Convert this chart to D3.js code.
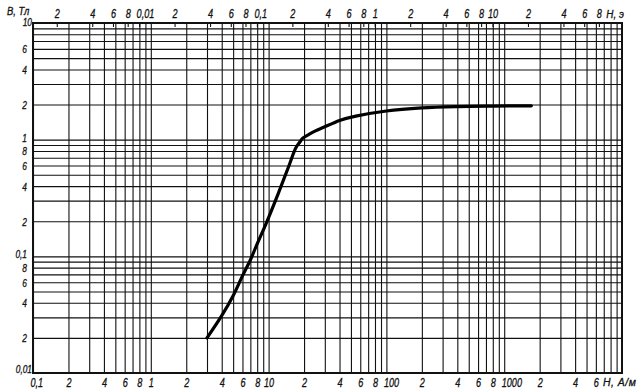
<!DOCTYPE html>
<html>
<head>
<meta charset="utf-8">
<script src="https://cdn.jsdelivr.net/npm/d3@7"></script>
<style>
  body { margin: 0; background: #fff; }
  text { font-family: "Liberation Sans", Arimo, sans-serif; font-style: italic; fill: #111; stroke: #111; stroke-width: 0.3; }
</style>
</head>
<body>
<div class="chart"></div>
<script>
// magnetization curve, H in A/m, B in T
var fieldH = [3, 4, 5, 6, 7, 8, 9.5, 12, 15, 17, 18.5, 19.5, 22, 25, 29, 35, 40, 55, 100, 200, 400, 800, 1700];
var inductionB = [0.02, 0.031, 0.046, 0.068, 0.093, 0.128, 0.19, 0.34, 0.61, 0.85, 0.96, 1.03, 1.11, 1.19, 1.27, 1.38, 1.46, 1.59, 1.76, 1.87, 1.92, 1.94, 1.95];

// bottom axis (A/m)
var hTicks = [0.1, 0.2, 0.4, 0.6, 0.8, 1, 2, 4, 6, 8, 10, 20, 40, 60, 80, 100, 200, 400, 600, 800, 1000, 2000, 4000, 6000];
var hLabels = ['0,1', '2', '4', '6', '8', '1', '2', '4', '6', '8', '10', '2', '4', '6', '8', '100', '2', '4', '6', '8', '1000', '2', '4', '6'];

// top axis (oersted)
var oeTicks = [0.002, 0.004, 0.006, 0.008, 0.01, 0.02, 0.04, 0.06, 0.08, 0.1, 0.2, 0.4, 0.6, 0.8, 1, 2, 4, 6, 8, 10, 20, 40, 60, 80];
var oeLabels = ['2', '4', '6', '8', '0,01', '2', '4', '6', '8', '0,1', '2', '4', '6', '8', '1', '2', '4', '6', '8', '10', '2', '4', '6', '8'];

// left axis (T)
var bTicks = [6, 4, 2, 1, 0.8, 0.6, 0.4, 0.2, 0.1, 0.08, 0.06, 0.04, 0.02];
var bLabels = ['6', '4', '2', '1', '8', '6', '4', '2', '0,1', '8', '6', '4', '2'];

var opts = { width: 640, height: 392, left: 33, right: 622, top: 23, bottom: 373 };
var oePerAm = 1 / 79.577;
var squeeze = 0.76; // narrow drafting-style lettering

var svg = d3.select('.chart').append('svg')
  .attr('width', opts.width)
  .attr('height', opts.height);

var x = d3.scaleLog().domain([0.1, 10000]).range([opts.left, opts.right]);
var xOe = d3.scaleLog().domain([0.1 * oePerAm, 10000 * oePerAm]).range([opts.left, opts.right]);
var y = d3.scaleLog().domain([0.01, 10]).range([opts.bottom, opts.top]);

// 1..9 in every decade
var gridX = [], gridY = [];
for (var e = -1; e < 4; e++) {
  for (var k = 1; k < 10; k++) gridX.push(k * Math.pow(10, e));
}
for (var e2 = -2; e2 < 1; e2++) {
  for (var k2 = 1; k2 < 10; k2++) gridY.push(k2 * Math.pow(10, e2));
}

var gridStyle = function(g) {
  g.select('.domain').remove();
  g.selectAll('line').attr('stroke', '#111').attr('stroke-width', 1.1);
};

svg.append('g')
  .attr('transform', 'translate(0,' + opts.bottom + ')')
  .call(d3.axisBottom(x).tickValues(gridX).tickSize(-(opts.bottom - opts.top)).tickFormat(''))
  .call(gridStyle);

svg.append('g')
  .attr('transform', 'translate(' + opts.left + ',0)')
  .call(d3.axisLeft(y).tickValues(gridY).tickSize(-(opts.right - opts.left)).tickFormat(''))
  .call(gridStyle);

// small oersted ticks along the top
svg.append('g')
  .attr('transform', 'translate(0,' + opts.top + ')')
  .call(d3.axisBottom(xOe).tickValues(oeTicks).tickSize(4).tickFormat(''))
  .call(gridStyle);

// frame
svg.append('rect')
  .attr('x', opts.left).attr('y', opts.top)
  .attr('width', opts.right - opts.left).attr('height', opts.bottom - opts.top)
  .attr('fill', 'none').attr('stroke', '#111').attr('stroke-width', 2);

// tick labels: long labels start just left of their line, short ones are centred
var labelStyle = function(g, size) {
  g.select('.domain').remove();
  g.selectAll('line').remove();
  g.selectAll('text')
    .attr('font-size', size).attr('fill', '#111').attr('font-family', null)
    .attr('transform', 'scale(' + squeeze + ',1)')
    .each(function() {
      var t = d3.select(this);
      if (t.text().length > 2) t.attr('text-anchor', 'start').attr('x', -3 / squeeze);
    });
};

svg.append('g')
  .attr('transform', 'translate(0,' + opts.bottom + ')')
  .call(d3.axisBottom(x).tickValues(hTicks).tickSize(0).tickPadding(5)
    .tickFormat(function(d, i) { return hLabels[i]; }))
  .call(labelStyle, 12);

svg.append('g')
  .attr('transform', 'translate(0,' + opts.top + ')')
  .call(d3.axisTop(xOe).tickValues(oeTicks).tickSize(0).tickPadding(5)
    .tickFormat(function(d, i) { return oeLabels[i]; }))
  .call(labelStyle, 12);

svg.append('g')
  .attr('transform', 'translate(' + opts.left + ',0)')
  .call(d3.axisLeft(y).tickValues(bTicks).tickSize(0).tickPadding(6)
    .tickFormat(function(d, i) { return bLabels[i]; }))
  .call(function(g) {
    g.select('.domain').remove();
    g.selectAll('line').remove();
    g.selectAll('text')
      .attr('font-size', 11).attr('fill', '#111').attr('font-family', null)
      .attr('x', -6 / squeeze)
      .attr('dy', function(d) { return (d === 1 || d === 0.1) ? '0.12em' : '0.36em'; })
      .attr('transform', 'scale(' + squeeze + ',1)');
  });

// corner labels and axis names
var addText = function(px, py, txt, anchor, size, sx, spacing) {
  svg.append('g').attr('transform', 'translate(' + px + ',' + py + ')')
    .append('text')
    .attr('transform', 'scale(' + sx + ',1)')
    .attr('text-anchor', anchor)
    .attr('font-size', size)
    .attr('letter-spacing', spacing)
    .text(txt);
};
addText(opts.left - 1, opts.top + 3, '10', 'end', 11, squeeze, 0);
addText(opts.left - 1, opts.bottom, '0,01', 'end', 11, squeeze, 0);
addText(7, 15, 'B, Тл', 'start', 11, 0.86, 0);
addText(xOe(100) - 4, opts.top - 5, 'H, э', 'start', 11, 0.9, 0);
addText(603, opts.bottom + 13, 'H, A/м', 'start', 11, 0.95, 0.6);

// the curve
var points = fieldH.map(function(h, i) { return [x(h), y(inductionB[i])]; });
svg.append('path')
  .attr('d', d3.line().curve(d3.curveCatmullRom.alpha(0.5))(points))
  .attr('fill', 'none')
  .attr('stroke', '#000')
  .attr('stroke-width', 3.2)
  .attr('stroke-linecap', 'round');
</script>
</body>
</html>
